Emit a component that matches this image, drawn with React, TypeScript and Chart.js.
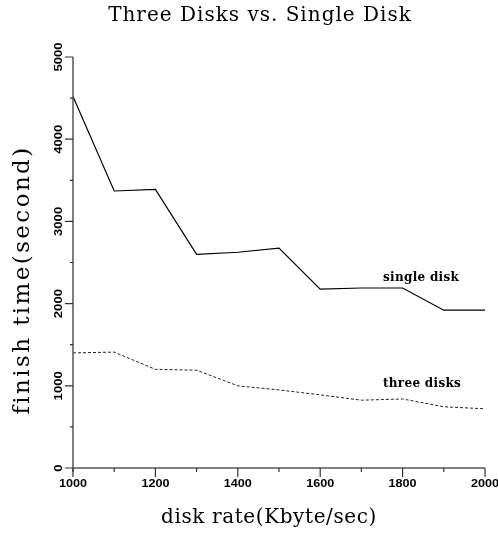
import React, { useEffect, useRef } from "react";
import { Chart, registerables } from "chart.js";

Chart.register(...registerables);

const diskRates = [1000, 1100, 1200, 1300, 1400, 1500, 1600, 1700, 1800, 1900, 2000];
const singleDisk = [4520, 3370, 3390, 2600, 2625, 2675, 2175, 2190, 2190, 1920, 1920];
const threeDisks = [1400, 1410, 1200, 1190, 1000, 950, 890, 825, 840, 745, 720];
const xTickLabels = [1000, 1200, 1400, 1600, 1800, 2000];
const yTickLabels = [0, 1000, 2000, 3000, 4000, 5000];

const titleText = "Three Disks vs. Single Disk";
const xTitle = "disk rate(Kbyte/sec)";
const yTitle = "finish time(second)";
const seriesNames = ["single disk", "three disks"];

const SERIF = '"DejaVu Serif", serif';
const SANS = '"Liberation Sans", Arial, sans-serif';

function spaced(ctx: any, px: number) {
  try {
    ctx.letterSpacing = px + "px";
  } catch (e) {
    /* ignore */
  }
}

const axesPlugin = {
  id: "customAxes",
  afterDatasetsDraw(chart: any) {
    const ctx = chart.ctx as CanvasRenderingContext2D;
    const xs = chart.scales.x;
    const ys = chart.scales.y;
    const left = xs.getPixelForValue(1000);
    const right = xs.getPixelForValue(2000);
    const top = ys.getPixelForValue(5000);
    const bottom = ys.getPixelForValue(0);
    ctx.save();
    ctx.strokeStyle = "#555";
    ctx.lineWidth = 1.5;
    ctx.beginPath();
    ctx.moveTo(left, top);
    ctx.lineTo(left, bottom + 4);
    ctx.moveTo(left, bottom);
    ctx.lineTo(right, bottom);
    ctx.stroke();

    // x ticks
    ctx.lineWidth = 1.2;
    ctx.strokeStyle = "#333";
    ctx.beginPath();
    for (const v of diskRates) {
      const px = xs.getPixelForValue(v);
      const major = v % 200 === 0;
      ctx.moveTo(px, bottom);
      ctx.lineTo(px, bottom + (major ? 9 : 4));
    }
    // y ticks
    for (let v = 0; v <= 5000; v += 500) {
      const py = ys.getPixelForValue(v);
      const major = v % 1000 === 0;
      ctx.moveTo(left, py);
      ctx.lineTo(left - (major ? 8 : 3), py);
    }
    ctx.stroke();

    // tick labels
    ctx.fillStyle = "#000";
    ctx.font = `bold 10.5px ${SANS}`;
    ctx.textAlign = "center";
    ctx.textBaseline = "middle";
    for (const v of xTickLabels) {
      const px = xs.getPixelForValue(v);
      ctx.save();
      ctx.translate(px, 484.5);
      ctx.scale(1.2, 1);
      ctx.fillText(String(v), 0, 0);
      ctx.restore();
    }
    for (const v of yTickLabels) {
      const py = ys.getPixelForValue(v);
      ctx.save();
      ctx.translate(59, py);
      ctx.rotate(-Math.PI / 2);
      ctx.scale(1.25, 1);
      ctx.fillText(String(v), 0, 0);
      ctx.restore();
    }

    // titles
    ctx.textBaseline = "alphabetic";
    ctx.font = `20px ${SERIF}`;
    spaced(ctx, 1);
    ctx.fillText(titleText, 260, 21);
    spaced(ctx, 0.6);
    ctx.fillText(xTitle, 269, 523);
    ctx.save();
    ctx.translate(29, 280);
    ctx.rotate(-Math.PI / 2);
    ctx.font = `23px ${SERIF}`;
    spaced(ctx, 2.4);
    ctx.fillText(yTitle, 0, 0);
    ctx.restore();

    // series labels
    spaced(ctx, 0.3);
    ctx.font = `600 12px ${SERIF}`;
    ctx.textAlign = "left";
    ctx.fillText(seriesNames[0], 383, 281);
    ctx.fillText(seriesNames[1], 383, 387);
    spaced(ctx, 0);
    ctx.restore();
  },
};

export default function App() {
  const ref = useRef<HTMLCanvasElement | null>(null);
  useEffect(() => {
    if (!ref.current) return;
    const chart = new Chart(ref.current, {
      type: "line",
      data: {
        datasets: [
          {
            label: seriesNames[0],
            data: diskRates.map((x, i) => ({ x, y: singleDisk[i] })),
            borderColor: "#000",
            borderWidth: 1.2,
            pointRadius: 0,
            tension: 0,
          },
          {
            label: seriesNames[1],
            data: diskRates.map((x, i) => ({ x, y: threeDisks[i] })),
            borderColor: "#222",
            borderWidth: 1,
            borderDash: [3, 2],
            pointRadius: 0,
            tension: 0,
          },
        ],
      },
      options: {
        responsive: false,
        animation: false,
        layout: { padding: { left: 73, right: 13, top: 57, bottom: 65 } },
        plugins: { legend: { display: false }, tooltip: { enabled: false }, title: { display: false } },
        scales: {
          x: { type: "linear", min: 1000, max: 2000, display: false },
          y: { type: "linear", min: 0, max: 5000, display: false },
        },
      },
      plugins: [axesPlugin],
    });
    return () => chart.destroy();
  }, []);
  return (
    <div style={{ position: "fixed", left: 0, top: 0, width: 498, height: 533, background: "#fff" }}>
      <canvas ref={ref} width={498} height={533} />
    </div>
  );
}
